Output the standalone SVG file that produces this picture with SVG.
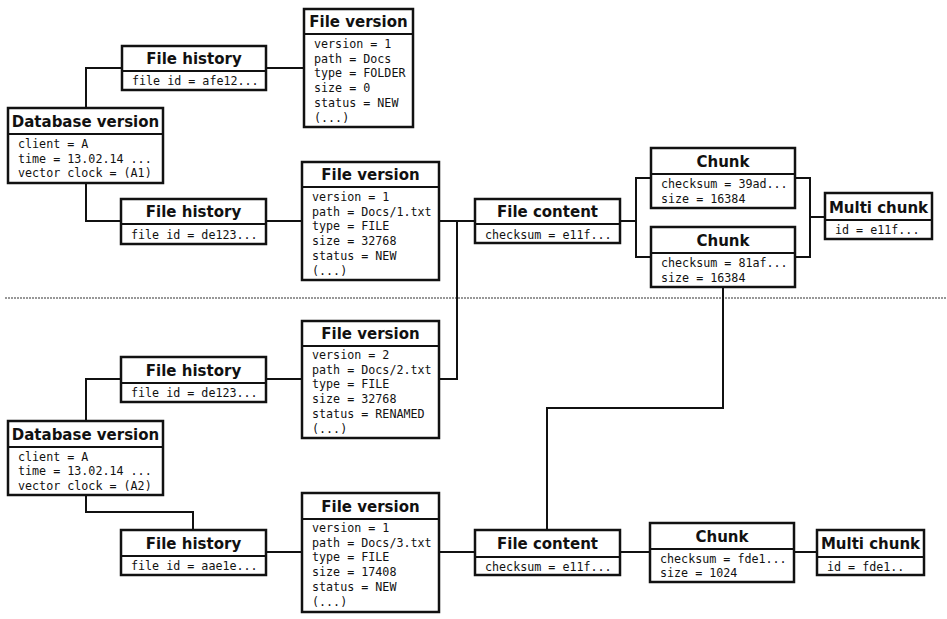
<svg xmlns="http://www.w3.org/2000/svg" width="947" height="619" viewBox="0 0 947 619">
<style>
.box{fill:#fff;stroke:#111;stroke-width:2.5}
.div{stroke:#111;stroke-width:2.2}
.t{font-family:"DejaVu Sans",sans-serif;font-weight:bold;font-size:15px;fill:#111;text-anchor:middle}
.b{font-family:"DejaVu Sans Mono",monospace;font-size:11.7px;fill:#111}
.c{fill:none;stroke:#111;stroke-width:2}
.sep{stroke:#777;stroke-width:1.5;stroke-dasharray:2 1}
</style>
<rect width="947" height="619" fill="#fff"/>
<line class="sep" x1="5" y1="298" x2="947" y2="298"/>
<g id="connectors">
<path class="c" d="M86,108 V68 H122"/>
<path class="c" d="M266,68 H304"/>
<path class="c" d="M86,183 V221 H121"/>
<path class="c" d="M266,221 H302"/>
<path class="c" d="M439,221 H475"/>
<path class="c" d="M457,221 V379 H439"/>
<path class="c" d="M266,379 H302"/>
<path class="c" d="M86,421 V379 H121"/>
<path class="c" d="M86,495 V512 H193 V530"/>
<path class="c" d="M266,552 H302"/>
<path class="c" d="M439,552 H475"/>
<path class="c" d="M620,552 H650"/>
<path class="c" d="M794,552 H817"/>
<path class="c" d="M547,530 V408 H723 V287"/>
<path class="c" d="M620,221 H636"/>
<path class="c" d="M651,178 H636 V257 H651"/>
<path class="c" d="M795,178 H810 V257 H795"/>
<path class="c" d="M810,217 H825"/>
</g>
<g id="db1">
<rect class="box" x="8" y="108" width="155" height="75"/>
<line class="div" x1="8" y1="134" x2="163" y2="134"/>
<text class="t" x="85.5" y="126.5">Database version</text>
<text class="b" x="18" y="147.5">client = A</text>
<text class="b" x="18" y="162.5">time = 13.02.14 ...</text>
<text class="b" x="18" y="177">vector clock = (A1)</text>
</g>
<g id="fh1">
<rect class="box" x="122" y="46" width="144" height="44"/>
<line class="div" x1="122" y1="71" x2="266" y2="71"/>
<text class="t" x="194" y="64">File history</text>
<text class="b" x="132" y="85">file id = afe12...</text>
</g>
<g id="fv1">
<rect class="box" x="304" y="9" width="109" height="118"/>
<line class="div" x1="304" y1="34" x2="413" y2="34"/>
<text class="t" x="358.5" y="27">File version</text>
<text class="b" x="314" y="48">version = 1</text>
<text class="b" x="314" y="62.7">path = Docs</text>
<text class="b" x="314" y="77.4">type = FOLDER</text>
<text class="b" x="314" y="92.1">size = 0</text>
<text class="b" x="314" y="106.8">status = NEW</text>
<text class="b" x="314" y="121.5">(...)</text>
</g>
<g id="fh2">
<rect class="box" x="121" y="199" width="145" height="45"/>
<line class="div" x1="121" y1="224" x2="266" y2="224"/>
<text class="t" x="193.5" y="217">File history</text>
<text class="b" x="131" y="238.5">file id = de123...</text>
</g>
<g id="fv2">
<rect class="box" x="302" y="162" width="137" height="118"/>
<line class="div" x1="302" y1="187" x2="439" y2="187"/>
<text class="t" x="370.5" y="180">File version</text>
<text class="b" x="312" y="201">version = 1</text>
<text class="b" x="312" y="215.7">path = Docs/1.txt</text>
<text class="b" x="312" y="230.4">type = FILE</text>
<text class="b" x="312" y="245.1">size = 32768</text>
<text class="b" x="312" y="259.8">status = NEW</text>
<text class="b" x="312" y="274.5">(...)</text>
</g>
<g id="fc1">
<rect class="box" x="475" y="199" width="145" height="44"/>
<line class="div" x1="475" y1="224" x2="620" y2="224"/>
<text class="t" x="547.5" y="217">File content</text>
<text class="b" x="485" y="238.5">checksum = e11f...</text>
</g>
<g id="ch1">
<rect class="box" x="651" y="148" width="144" height="60"/>
<line class="div" x1="651" y1="174" x2="795" y2="174"/>
<text class="t" x="723" y="166.5">Chunk</text>
<text class="b" x="661" y="188">checksum = 39ad...</text>
<text class="b" x="661" y="202.7">size = 16384</text>
</g>
<g id="ch2">
<rect class="box" x="651" y="227" width="144" height="60"/>
<line class="div" x1="651" y1="253" x2="795" y2="253"/>
<text class="t" x="723" y="245.5">Chunk</text>
<text class="b" x="661" y="267">checksum = 81af...</text>
<text class="b" x="661" y="281.7">size = 16384</text>
</g>
<g id="mc1">
<rect class="box" x="825" y="193" width="107" height="46"/>
<line class="div" x1="825" y1="220" x2="932" y2="220"/>
<text class="t" x="878.5" y="212.5">Multi chunk</text>
<text class="b" x="835" y="234">id = e11f...</text>
</g>
<g id="fh3">
<rect class="box" x="121" y="357" width="145" height="45"/>
<line class="div" x1="121" y1="383" x2="266" y2="383"/>
<text class="t" x="193.5" y="375.5">File history</text>
<text class="b" x="131" y="396.5">file id = de123...</text>
</g>
<g id="fv3">
<rect class="box" x="302" y="321" width="137" height="117"/>
<line class="div" x1="302" y1="346" x2="439" y2="346"/>
<text class="t" x="370.5" y="339">File version</text>
<text class="b" x="312" y="359">version = 2</text>
<text class="b" x="312" y="373.7">path = Docs/2.txt</text>
<text class="b" x="312" y="388.4">type = FILE</text>
<text class="b" x="312" y="403.1">size = 32768</text>
<text class="b" x="312" y="417.8">status = RENAMED</text>
<text class="b" x="312" y="432.5">(...)</text>
</g>
<g id="db2">
<rect class="box" x="8" y="421" width="155" height="74"/>
<line class="div" x1="8" y1="447" x2="163" y2="447"/>
<text class="t" x="85.5" y="439.5">Database version</text>
<text class="b" x="18" y="460.5">client = A</text>
<text class="b" x="18" y="475.2">time = 13.02.14 ...</text>
<text class="b" x="18" y="489.9">vector clock = (A2)</text>
</g>
<g id="fh4">
<rect class="box" x="121" y="530" width="145" height="45"/>
<line class="div" x1="121" y1="556" x2="266" y2="556"/>
<text class="t" x="193.5" y="548.5">File history</text>
<text class="b" x="131" y="569.5">file id = aae1e...</text>
</g>
<g id="fv4">
<rect class="box" x="302" y="493" width="137" height="119"/>
<line class="div" x1="302" y1="519" x2="439" y2="519"/>
<text class="t" x="370.5" y="511.5">File version</text>
<text class="b" x="312" y="532">version = 1</text>
<text class="b" x="312" y="546.7">path = Docs/3.txt</text>
<text class="b" x="312" y="561.4">type = FILE</text>
<text class="b" x="312" y="576.1">size = 17408</text>
<text class="b" x="312" y="590.8">status = NEW</text>
<text class="b" x="312" y="605.5">(...)</text>
</g>
<g id="fc2">
<rect class="box" x="475" y="530" width="145" height="45"/>
<line class="div" x1="475" y1="557" x2="620" y2="557"/>
<text class="t" x="547.5" y="549">File content</text>
<text class="b" x="485" y="570.5">checksum = e11f...</text>
</g>
<g id="ch3">
<rect class="box" x="650" y="523" width="144" height="59"/>
<line class="div" x1="650" y1="549" x2="794" y2="549"/>
<text class="t" x="722" y="541.5">Chunk</text>
<text class="b" x="660" y="562.5">checksum = fde1...</text>
<text class="b" x="660" y="577.2">size = 1024</text>
</g>
<g id="mc2">
<rect class="box" x="817" y="530" width="107" height="45"/>
<line class="div" x1="817" y1="557" x2="924" y2="557"/>
<text class="t" x="870.5" y="549">Multi chunk</text>
<text class="b" x="827" y="570.5">id = fde1..</text>
</g>
</svg>
